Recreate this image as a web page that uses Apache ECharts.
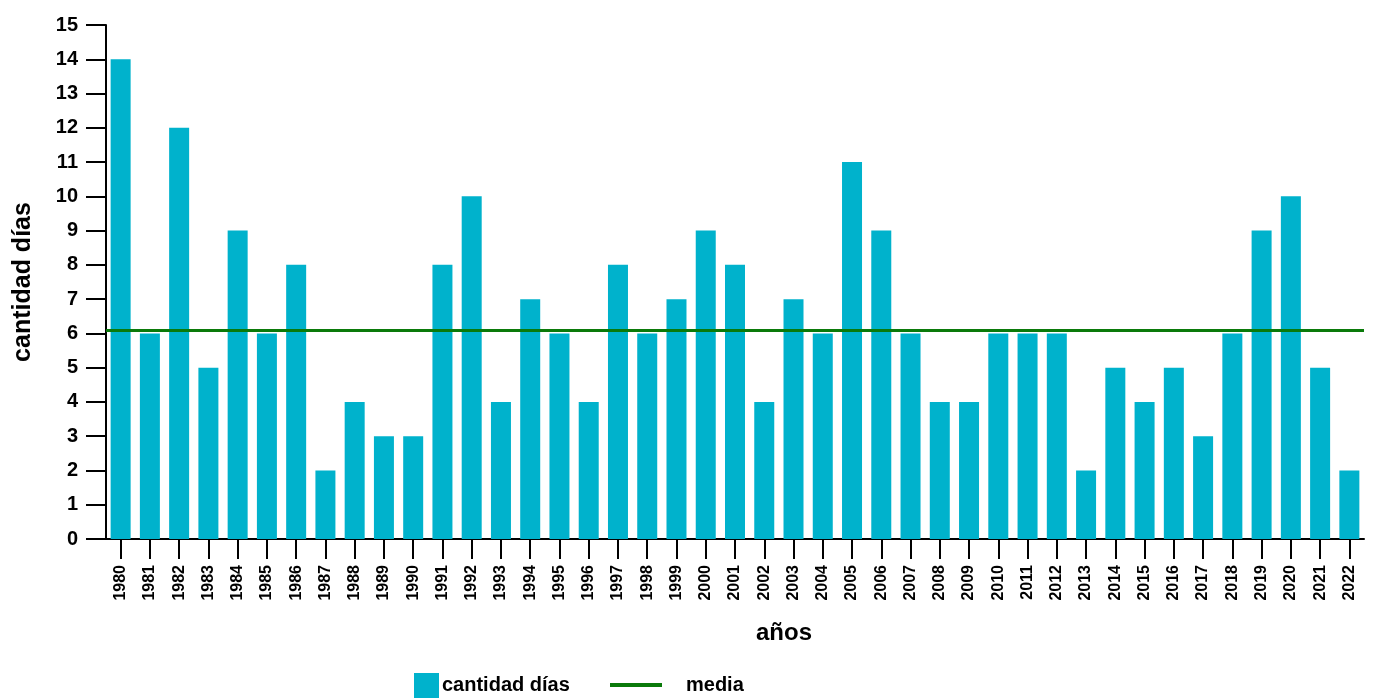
<!DOCTYPE html>
<html>
<head>
<meta charset="utf-8">
<script src="https://cdn.jsdelivr.net/npm/echarts@6/dist/echarts.min.js"></script>
<style>
html,body{margin:0;padding:0;background:#fff;}
#chart{width:1376px;height:698px;}
</style>
</head>
<body>
<div id="chart"></div>
<script>
const years = ['1980','1981','1982','1983','1984','1985','1986','1987','1988','1989','1990','1991','1992','1993','1994','1995','1996','1997','1998','1999','2000','2001','2002','2003','2004','2005','2006','2007','2008','2009','2010','2011','2012','2013','2014','2015','2016','2017','2018','2019','2020','2021','2022'];
const cantidadDias = [14,6,12,5,9,6,8,2,4,3,3,8,10,4,7,6,4,8,6,7,9,8,4,7,6,11,9,6,4,4,6,6,6,2,5,4,5,3,6,9,10,5,2];
const media = 6.1;
const yTicks = [0,1,2,3,4,5,6,7,8,9,10,11,12,13,14,15];

const FONT = "'Liberation Sans Narrow', 'Liberation Sans', Arial, sans-serif";
const chart = echarts.init(document.getElementById('chart'));
chart.setOption({
  animation: false,
  backgroundColor: '#fff',
  grid: {left: 106, right: 12, top: 25, bottom: 159},
  legend: [
    {data: ['cantidad días'], left: 409, top: 668, itemWidth: 25, itemHeight: 25, icon: 'rect',
     textStyle: {fontFamily: FONT, fontSize: 20, fontWeight: 'bold', color: '#000', padding: [0,0,0,-2]}},
    {data: ['media'], left: 605, top: 670, itemWidth: 52, itemHeight: 4, icon: 'rect',
     textStyle: {fontFamily: FONT, fontSize: 20, fontWeight: 'bold', color: '#000', padding: [0,0,0,19]}}
  ],
  xAxis: [{
    type: 'category', data: years, boundaryGap: true,
    name: 'años', nameLocation: 'middle', nameGap: 82,
    nameTextStyle: {fontFamily: FONT, fontSize: 24, fontWeight: 'bold', color: '#000', padding: [0,0,0,98]},
    axisLine: {show: true, lineStyle: {color: '#000', width: 2}},
    axisTick: {show: true, alignWithLabel: true, interval: 0, length: 20, inside: false, lineStyle: {color: '#000', width: 2}},
    axisLabel: {rotate: 90, margin: 26, fontFamily: FONT, fontSize: 16, fontWeight: 'bold', color: '#000', interval: 0}
  }],
  yAxis: {
    type: 'value', min: 0, max: 15, interval: 1,
    name: 'cantidad días', nameLocation: 'middle', nameGap: 70,
    nameTextStyle: {fontFamily: FONT, fontSize: 25, fontWeight: 'bold', color: '#000'},
    axisLine: {show: true, lineStyle: {color: '#000', width: 2}},
    axisTick: {show: true, length: 20, inside: false, lineStyle: {color: '#000', width: 2}},
    splitLine: {show: false},
    axisLabel: {margin: 28, fontFamily: FONT, fontSize: 20, fontWeight: 'bold', color: '#000',
      formatter: v => yTicks.includes(v) ? String(v) : ''}
  },
  series: [
    {name: 'cantidad días', type: 'bar', data: cantidadDias, barWidth: 20,
     itemStyle: {color: '#00B2CC'}, z: 2},
    {name: 'media', type: 'line', data: [], itemStyle: {color: '#0A7A0A'}, lineStyle: {color: '#0A7A0A', width: 3}, symbol: 'none',
     markLine: {silent: true, symbol: 'none', label: {show: false},
       lineStyle: {color: '#0A7A0A', width: 3, type: 'solid'},
       data: [{yAxis: media}]}, z: 3}
  ]
});
</script>
</body>
</html>
